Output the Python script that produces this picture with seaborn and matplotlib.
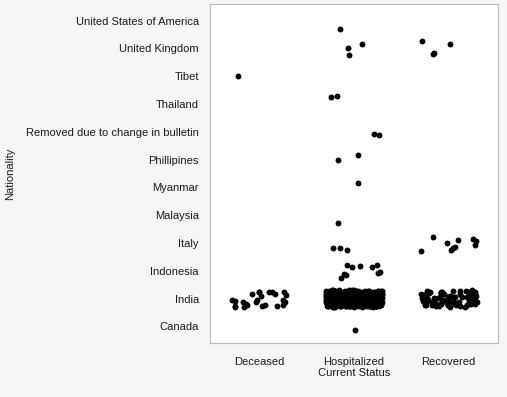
"""Jittered scatter of nationality vs current status (JMP style)."""

import numpy as np
import pandas as pd
import matplotlib.pyplot as plt
import seaborn as sns

# categories
statuses = ["Deceased", "Hospitalized", "Recovered"]
nationalities = ["Canada", "India", "Indonesia", "Italy", "Malaysia", "Myanmar",
                 "Phillipines", "Removed due to change in bulletin", "Thailand",
                 "Tibet", "United Kingdom", "United States of America"]

# number of cases per nationality (same order as above)
deceased_counts = [0, 25, 0, 0, 0, 0, 0, 0, 0, 1, 0, 0]
hospitalized_counts = [1, 400, 10, 3, 1, 1, 2, 2, 2, 0, 3, 1]
recovered_counts = [0, 70, 0, 10, 0, 0, 0, 0, 0, 0, 4, 0]

rows = []
for status, counts in zip(statuses, [deceased_counts, hospitalized_counts,
                                      recovered_counts]):
    for nat, n in zip(nationalities, counts):
        rows += [(status, nat)] * n
df = pd.DataFrame(rows, columns=["Current Status", "Nationality"])
df["x"] = pd.Categorical(df["Current Status"], categories=statuses).codes
df["y"] = pd.Categorical(df["Nationality"], categories=nationalities).codes

BG = "#f6f6f4"
sns.set_style("white")
plt.rcParams["font.family"] = ["Liberation Sans", "DejaVu Sans"]

np.random.seed(7)
fig = plt.figure(figsize=(5.07, 3.97), dpi=100, facecolor=BG)
ax = fig.add_axes([210 / 507, 54 / 397, 288 / 507, 339 / 397])
sns.regplot(data=df, x="x", y="y", fit_reg=False, x_jitter=0.3, y_jitter=0.3,
            ax=ax, scatter_kws={"s": 18, "color": "black", "linewidths": 0,
                                "alpha": 1})

ax.set_xlim(-0.52, 2.52)
ax.set_ylim(-0.6, 11.6)
ax.set_xticks(range(len(statuses)))
ax.set_xticklabels(statuses)
ax.set_yticks(range(len(nationalities)))
ax.set_yticklabels(nationalities)
ax.tick_params(axis="both", length=4, width=0.8, color="#aaaaaa",
               labelsize=8, labelcolor="#1a1a1a", pad=4)
ax.tick_params(axis="x", pad=6)
ax.set_xlabel("Current Status", fontsize=8, color="#1a1a1a", labelpad=1)
ax.set_ylabel("Nationality", fontsize=8, color="#1a1a1a")
ax.yaxis.set_label_coords(-0.675, 0.5)
for sp in ax.spines.values():
    sp.set_color("#bbbbbb")
    sp.set_linewidth(0.8)

fig.savefig("out.png", dpi=100, facecolor=BG)
